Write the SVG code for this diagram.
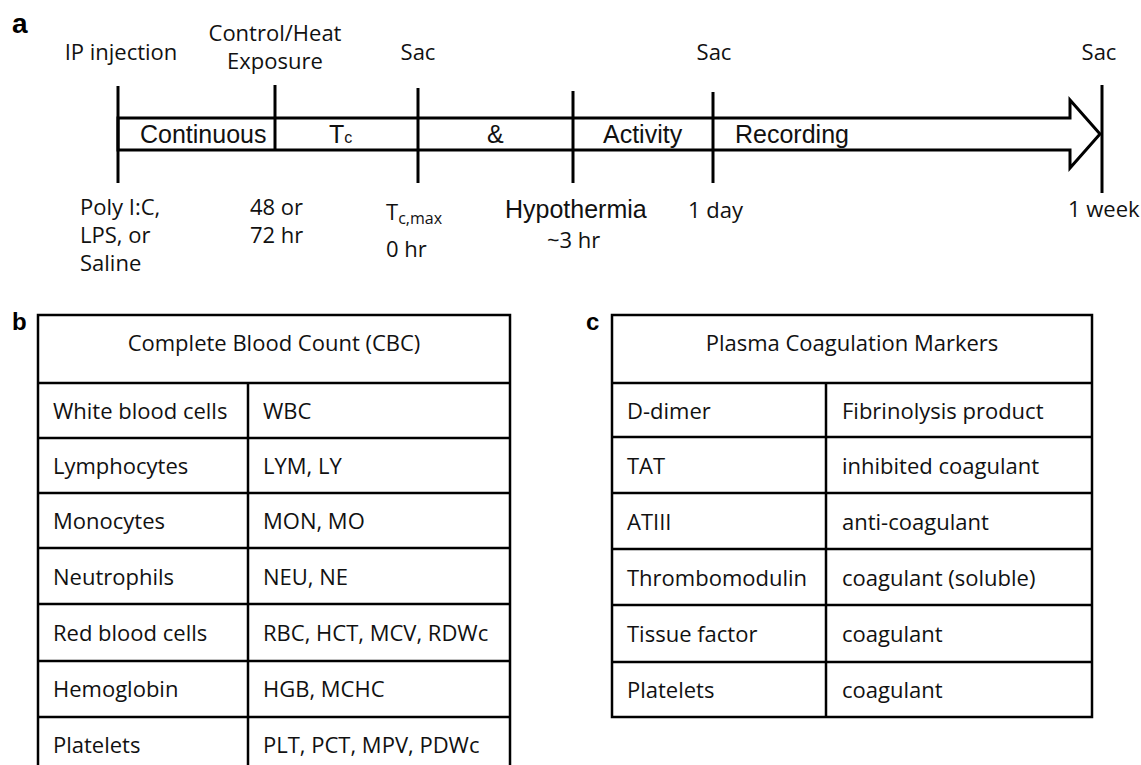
<svg xmlns="http://www.w3.org/2000/svg" width="1141" height="765" viewBox="0 0 1141 765">
<style>
.bg{fill:#fff}
.ln{stroke:#000;stroke-width:3;fill:none}
.tl{stroke:#000;stroke-width:2.5;fill:none}
.lab{font-family:"Liberation Sans",Arial,sans-serif;font-weight:bold;fill:#000}
.os{font-family:"Open Sans","Noto Sans",sans-serif;font-size:22px;fill:#111}
.ar{font-family:"Liberation Sans",Arial,sans-serif;font-size:25px;fill:#111}
.mid{text-anchor:middle}
</style>
<rect class="bg" x="0" y="0" width="1141" height="765"/>
<g id="panel-labels">
<text class="lab" x="12" y="33" font-size="28">a</text>
<text class="lab" x="12" y="330" font-size="24">b</text>
<text class="lab" x="586" y="330" font-size="24">c</text>
</g>
<g id="timeline-labels">
<text class="os mid" x="121" y="60">IP injection</text>
<text class="os mid" x="275" y="41">Control/Heat</text>
<text class="os mid" x="275" y="69">Exposure</text>
<text class="os mid" x="418" y="60">Sac</text>
<text class="os mid" x="714" y="60">Sac</text>
<text class="os mid" x="1099" y="60">Sac</text>
</g>
<g id="connectors">
<polygon points="118,118 1070,118 1070,100 1100,134 1070,168 1070,150 118,150" fill="#fff" stroke="#000" stroke-width="3" stroke-linejoin="miter"/>
<line class="ln" x1="118" y1="86" x2="118" y2="183"/>
<line class="ln" x1="275" y1="85" x2="275" y2="150"/>
<line class="ln" x1="418" y1="88" x2="418" y2="183"/>
<line class="ln" x1="573" y1="91" x2="573" y2="183"/>
<line class="ln" x1="713" y1="92" x2="713" y2="183"/>
<line class="ln" x1="1102" y1="85" x2="1102" y2="193"/>
</g>
<g id="band-labels">
<text class="ar" x="140" y="143">Continuous</text>
<text class="ar" x="329" y="143">T<tspan font-size="16">c</tspan></text>
<text class="ar" x="487" y="143">&amp;</text>
<text class="ar" x="603" y="143">Activity</text>
<text class="ar" x="735" y="143">Recording</text>
</g>
<g id="time-points">
<text class="os" x="80" y="215">Poly I:C,</text>
<text class="os" x="80" y="243">LPS, or</text>
<text class="os" x="80" y="271">Saline</text>
<text class="os" x="250" y="215">48 or</text>
<text class="os" x="250" y="243">72 hr</text>
<text class="os" x="386" y="220">T<tspan font-size="16" dy="4">c,max</tspan></text>
<text class="os" x="386" y="257">0 hr</text>
<text class="ar" x="505" y="218" font-size="24">Hypothermia</text>
<text class="os" x="547" y="248">~3 hr</text>
<text class="os" x="688" y="218">1 day</text>
<text class="os" x="1068" y="217">1 week</text>
</g>
<g id="table-cbc">
<rect class="tl" x="38" y="315" width="472" height="458"/>
<line class="tl" x1="38" y1="383" x2="510" y2="383"/>
<line class="tl" x1="38" y1="438" x2="510" y2="438"/>
<line class="tl" x1="38" y1="493" x2="510" y2="493"/>
<line class="tl" x1="38" y1="548" x2="510" y2="548"/>
<line class="tl" x1="38" y1="604" x2="510" y2="604"/>
<line class="tl" x1="38" y1="661" x2="510" y2="661"/>
<line class="tl" x1="38" y1="717" x2="510" y2="717"/>
<line class="tl" x1="248" y1="383" x2="248" y2="773"/>
<text class="os mid" x="274" y="351">Complete Blood Count (CBC)</text>
<text class="os" x="53" y="419">White blood cells</text><text class="os" x="263" y="419">WBC</text>
<text class="os" x="53" y="474">Lymphocytes</text><text class="os" x="263" y="474">LYM, LY</text>
<text class="os" x="53" y="529">Monocytes</text><text class="os" x="263" y="529">MON, MO</text>
<text class="os" x="53" y="585">Neutrophils</text><text class="os" x="263" y="585">NEU, NE</text>
<text class="os" x="53" y="641">Red blood cells</text><text class="os" x="263" y="641">RBC, HCT, MCV, RDWc</text>
<text class="os" x="53" y="697">Hemoglobin</text><text class="os" x="263" y="697">HGB, MCHC</text>
<text class="os" x="53" y="753">Platelets</text><text class="os" x="263" y="753">PLT, PCT, MPV, PDWc</text>
</g>
<g id="table-coag">
<rect class="tl" x="612" y="315" width="480" height="402"/>
<line class="tl" x1="612" y1="383" x2="1092" y2="383"/>
<line class="tl" x1="612" y1="437" x2="1092" y2="437"/>
<line class="tl" x1="612" y1="493" x2="1092" y2="493"/>
<line class="tl" x1="612" y1="549" x2="1092" y2="549"/>
<line class="tl" x1="612" y1="605" x2="1092" y2="605"/>
<line class="tl" x1="612" y1="662" x2="1092" y2="662"/>
<line class="tl" x1="826" y1="383" x2="826" y2="717"/>
<text class="os mid" x="852" y="351">Plasma Coagulation Markers</text>
<text class="os" x="627" y="419">D-dimer</text><text class="os" x="842" y="419">Fibrinolysis product</text>
<text class="os" x="627" y="474">TAT</text><text class="os" x="842" y="474">inhibited coagulant</text>
<text class="os" x="627" y="530">ATIII</text><text class="os" x="842" y="530">anti-coagulant</text>
<text class="os" x="627" y="586">Thrombomodulin</text><text class="os" x="842" y="586">coagulant (soluble)</text>
<text class="os" x="627" y="642">Tissue factor</text><text class="os" x="842" y="642">coagulant</text>
<text class="os" x="627" y="698">Platelets</text><text class="os" x="842" y="698">coagulant</text>
</g>
</svg>
